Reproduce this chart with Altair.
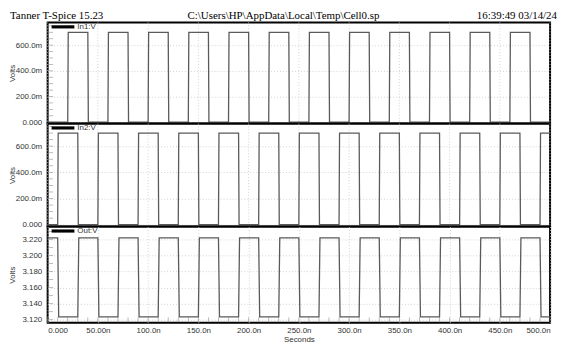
import altair as alt
import pandas as pd

# ---------------- data ----------------
series_names = ["In1:V", "In2:V", "Out:V"]
header_left = "Tanner T-Spice 15.23"
header_mid = "C:\\Users\\HP\\AppData\\Local\\Temp\\Cell0.sp"
header_right = "16:39:49 03/14/24"

x_ticks = [0, 50, 100, 150, 200, 250, 300, 350, 400, 450, 500]
x_minor = [10, 20, 30, 40, 60, 70, 80, 90, 110, 120, 130, 140, 160, 170, 180, 190,
           210, 220, 230, 240, 260, 270, 280, 290, 310, 320, 330, 340, 360, 370,
           380, 390, 410, 420, 430, 440, 460, 470, 480, 490]
in_ticks = [0.0, 0.2, 0.4, 0.6]
in_minor = [0.05, 0.1, 0.15, 0.25, 0.3, 0.35, 0.45, 0.5, 0.55, 0.65, 0.7, 0.75]
out_ticks = [3.12, 3.14, 3.16, 3.18, 3.20, 3.22]
out_minor = [3.13, 3.15, 3.17, 3.19, 3.21, 3.23]

# edge times (ns)
in1_rise = [20, 60, 100, 140, 180, 220, 260, 300, 340, 380, 420, 460]
in1_fall = [40, 80, 120, 160, 200, 240, 280, 320, 360, 400, 440, 480]
in2_rise = [10, 50, 90, 130, 170, 210, 250, 290, 330, 370, 410, 450, 490]
in2_fall = [30, 70, 110, 150, 190, 230, 270, 310, 350, 390, 430, 470]
out_fall = [10, 50, 90, 130, 170, 210, 250, 290, 330, 370, 410, 450, 490]
out_rise = [30, 70, 110, 150, 190, 230, 270, 310, 350, 390, 430, 470]

in_low, in_high = 0.0, 0.7
out_low, out_high = 3.1235, 3.222
t_end = 500


def wave(rises, falls, lo, hi, start_high, tr):
    events = sorted([(t, hi) for t in rises] + [(t, lo) for t in falls])
    level = hi if start_high else lo
    ts, vs = [0], [level]
    for t, new in events:
        ts += [t, min(t + tr, t_end)]
        vs += [level, new]
        level = new
    ts.append(t_end)
    vs.append(level)
    return pd.DataFrame({"t": ts, "v": vs})


df1 = wave(in1_rise, in1_fall, in_low, in_high, False, 0.5)
df2 = wave(in2_rise, in2_fall, in_low, in_high, False, 0.5)
df3 = wave(out_rise, out_fall, out_low, out_high, True, 1.0)

W = 507
H = [102, 104, 97]
FONT = "Liberation Sans"
LBL = "#333333"
GRID = "#c8c8c8"
TICK = "#8a8a8a"

x_label_expr = ("datum.value == 0 ? '0.000' : datum.value < 100 ? "
                "format(datum.value, '.2f') + 'n' : format(datum.value, '.1f') + 'n'")
in_label_expr = "datum.value == 0 ? '0.000' : format(datum.value * 1000, '.1f') + 'm'"
xscale = alt.Scale(domain=[0, t_end], nice=False, zero=False)


def panel(df, name, ydom, yticks, yminor, ylabel_expr, h, bottom, header=False):
    yscale = alt.Scale(domain=ydom, nice=False, zero=False)
    if bottom:
        x_axis = alt.Axis(values=x_ticks, grid=True, domain=False, ticks=False,
                          labelExpr=x_label_expr, title="Seconds",
                          labelPadding=4, titlePadding=1)
    else:
        x_axis = None
    y_axis = alt.Axis(values=yticks, grid=True, domain=False, ticks=False,
                      labelExpr=ylabel_expr, labelPadding=6, title="Volts",
                      titleX=-31, titleY=h / 2, titleAngle=-90,
                      titleBaseline="bottom", titleAlign="center")
    layers = []
    if not bottom:
        vg = pd.DataFrame({"t": x_ticks})
        layers.append(alt.Chart(vg).mark_rule(color=GRID, strokeDash=[1, 2],
                                              strokeWidth=0.8).encode(
            x=alt.X("t:Q", scale=xscale, axis=None)))
    # minor ticks on the inside of the left edge
    ym = pd.DataFrame({"v": yminor + yticks})
    layers.append(alt.Chart(ym).mark_tick(color=TICK, thickness=0.8, size=5).encode(
        y=alt.Y("v:Q", scale=yscale, axis=y_axis), x=alt.value(3)))
    if bottom:
        xm = pd.DataFrame({"t": x_minor + x_ticks})
        layers.append(alt.Chart(xm).mark_tick(color=TICK, thickness=0.8, size=5).encode(
            x=alt.X("t:Q", scale=xscale, axis=x_axis), y=alt.value(h - 3)))
    line = alt.Chart(df).mark_line(color="#5a5a5a", strokeWidth=1.3).encode(
        x=alt.X("t:Q", scale=xscale, axis=x_axis),
        y=alt.Y("v:Q", scale=yscale, axis=y_axis),
    )
    layers.append(line)
    one = pd.DataFrame({"name": [name]})
    leg_line = alt.Chart(one).mark_rule(color="black", strokeWidth=3.2).encode(
        x=alt.value(4), x2=alt.value(27), y=alt.value(4.5))
    leg_text = alt.Chart(one).mark_text(align="left", baseline="middle",
                                        font=FONT, fontSize=8, color=LBL).encode(
        x=alt.value(30), y=alt.value(4.5), text="name:N")
    layers += [leg_line, leg_text]
    if header:
        hd = pd.DataFrame({"l": [header_left], "m": [header_mid], "r": [header_right]})
        base = alt.Chart(hd)
        kw = dict(font="Liberation Serif", fontSize=11, color="black",
                  baseline="alphabetic")
        layers += [
            base.mark_text(align="left", **kw).encode(x=alt.value(-38), y=alt.value(-3), text="l:N"),
            base.mark_text(align="center", **kw).encode(x=alt.value(238), y=alt.value(-3), text="m:N"),
            base.mark_text(align="right", **kw).encode(x=alt.value(514), y=alt.value(-3), text="r:N"),
        ]
    return alt.layer(*layers).properties(width=W, height=h)


p1 = panel(df1, series_names[0], [-0.01, 0.777], in_ticks, in_minor, in_label_expr,
           H[0], False, header=True)
p2 = panel(df2, series_names[1], [-0.014, 0.773], in_ticks, in_minor, in_label_expr,
           H[1], False)
p3 = panel(df3, series_names[2], [3.1163, 3.2361], out_ticks, out_minor,
           "format(datum.value, '.3f')", H[2], True)

chart = alt.vconcat(p1, p2, p3, spacing=0, bounds="flush").resolve_scale(
    y="independent").properties(
    padding={"left": 0, "top": 0, "right": 0, "bottom": 0}
).configure_view(stroke="black", strokeWidth=2).configure_axis(
    labelFont=FONT, labelFontSize=8, labelColor=LBL,
    titleFont=FONT, titleFontSize=8, titleFontWeight="normal", titleColor=LBL,
    gridColor=GRID, gridDash=[1, 2], gridWidth=0.8,
)

chart.save("out.html", embed_options={"renderer": "svg", "actions": False})
